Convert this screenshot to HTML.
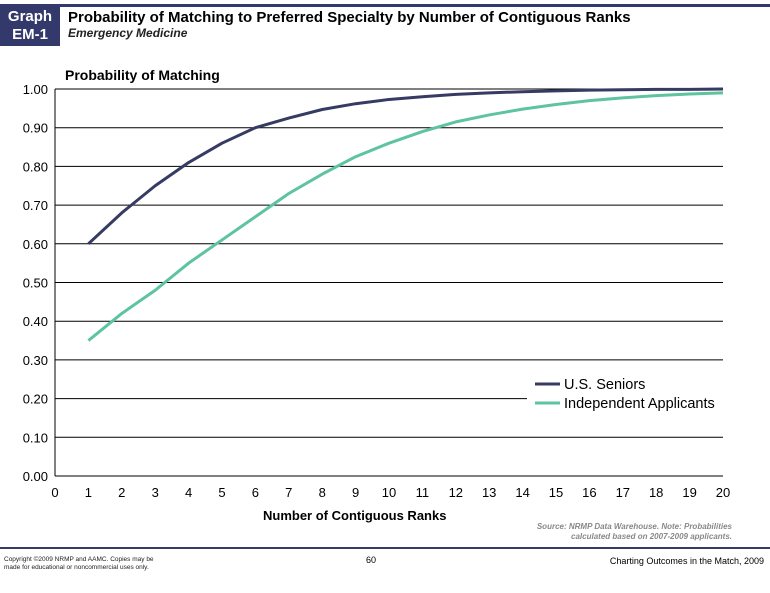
<!DOCTYPE html>
<html><head><meta charset="utf-8"><style>
body{margin:0;background:#fff;font-family:"Liberation Sans",sans-serif;}
#wrap{position:relative;width:770px;height:593px;overflow:hidden;}
.abs{position:absolute;white-space:nowrap;}
</style></head><body>
<div id="wrap">
<div class="abs" style="left:0;top:4px;width:60px;height:42px;background:#34396b;color:#fff;font-weight:bold;font-size:15px;text-align:center;line-height:18px;padding-top:4px;box-sizing:border-box;">Graph<br>EM-1</div>
<div class="abs" style="left:60px;top:4px;width:710px;height:3px;background:#34396b;"></div>
<div class="abs" style="left:68px;top:9px;font-size:15px;font-weight:bold;color:#000;">Probability of Matching to Preferred Specialty by Number of Contiguous Ranks</div>
<div class="abs" style="left:68px;top:26px;font-size:12px;font-weight:bold;font-style:italic;color:#222;">Emergency Medicine</div>
<div class="abs" style="left:65px;top:67px;font-size:14px;font-weight:bold;">Probability of Matching</div>
<svg id="chart" class="abs" style="left:0;top:0" width="770" height="593"></svg>
<div class="abs" style="left:263px;top:508px;font-size:13px;font-weight:bold;">Number of Contiguous Ranks</div>
<div class="abs" style="right:38px;top:522px;font-size:8px;font-style:italic;font-weight:bold;color:#888;text-align:right;line-height:10px;">Source: NRMP Data Warehouse. Note: Probabilities<br>calculated based on 2007-2009 applicants.</div>
<div class="abs" style="left:0;top:547px;width:770px;height:2px;background:#34396b;"></div>
<div class="abs" style="left:4px;top:556px;font-size:6.5px;line-height:8px;color:#222;">Copyright ©2009 NRMP and AAMC. Copies may be<br>made for educational or noncommercial uses only.</div>
<div class="abs" style="left:366px;top:555px;font-size:9px;">60</div>
<div class="abs" style="right:6px;top:556px;font-size:9px;">Charting Outcomes in the Match, 2009</div>
</div>
<script>
const ranks=[1,2,3,4,5,6,7,8,9,10,11,12,13,14,15,16,17,18,19,20];
const seniors=[0.60,0.68,0.75,0.81,0.86,0.90,0.925,0.947,0.962,0.973,0.98,0.986,0.99,0.993,0.995,0.997,0.998,0.999,0.999,1.0];
const independents=[0.35,0.42,0.48,0.55,0.61,0.67,0.73,0.78,0.825,0.86,0.89,0.915,0.933,0.948,0.96,0.97,0.977,0.983,0.987,0.99];
const yTicks=[0,0.1,0.2,0.3,0.4,0.5,0.6,0.7,0.8,0.9,1.0];
const xTicks=[0,1,2,3,4,5,6,7,8,9,10,11,12,13,14,15,16,17,18,19,20];
const NS="http://www.w3.org/2000/svg";
const svg=document.getElementById('chart');
const X0=55,X1=723,Y0=476,Y1=89;
const xs=v=>X0+(X1-X0)*v/20;
const ys=v=>Y0-(Y0-Y1)*v;
function mk(t,a){const e=document.createElementNS(NS,t);for(const k in a)e.setAttribute(k,a[k]);svg.appendChild(e);return e;}
yTicks.forEach(v=>{
  const l=mk('line',{x1:X0,x2:X1,y1:ys(v),y2:ys(v),stroke:'#000','stroke-width':1});
  
  
  const t=mk('text',{x:48,y:ys(v)+5,'text-anchor':'end','font-size':13,'font-family':'Liberation Sans, sans-serif'});
  t.textContent=v.toFixed(2);
  
  
});
const ax=mk('line',{x1:X0,x2:X0,y1:Y1,y2:Y0,stroke:'#000','stroke-width':1});


xTicks.forEach(v=>{
  const t=mk('text',{x:xs(v),y:497,'text-anchor':'middle','font-size':13,'font-family':'Liberation Sans, sans-serif'});
  t.textContent=v;
  
  
});
function series(vals,color,name){
  const p=mk('polyline',{points:ranks.map((r,i)=>xs(r)+','+ys(vals[i])).join(' '),fill:'none',stroke:color,'stroke-width':3,'stroke-linejoin':'round'});
  
  
}
series(independents,'#5ec39f','independent-applicants-line');
series(seniors,'#363b63','us-seniors-line');
const bg=mk('rect',{x:527,y:370,width:197,height:48,fill:'#fff'});


[['U.S. Seniors','#363b63',384],['Independent Applicants','#5ec39f',403]].forEach(([lab,c,y])=>{
  const l=mk('line',{x1:535,x2:560,y1:y,y2:y,stroke:c,'stroke-width':3});
  
  
  const t=mk('text',{x:564,y:y+5,'font-size':14.5,'font-family':'Liberation Sans, sans-serif'});
  t.textContent=lab;
  
  
});
</script>
</body></html>
